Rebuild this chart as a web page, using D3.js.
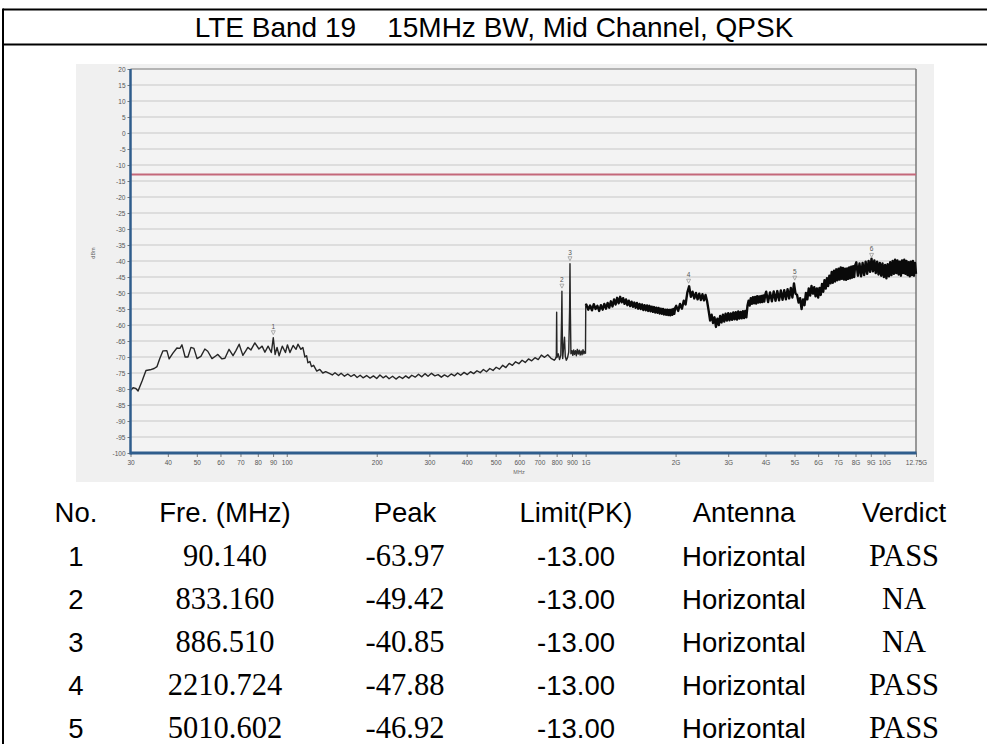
<!DOCTYPE html>
<html>
<head>
<meta charset="utf-8">
<script src="https://cdn.jsdelivr.net/npm/d3@7"></script>
<style>
  html, body { margin: 0; padding: 0; background: #fff; overflow: hidden; }
  svg { display: block; }
</style>
</head>
<body>
<svg id="chart" width="987" height="744"></svg>
<script>
// ---- Report header ----
const titleText = "LTE Band 19\u00a0\u00a0\u00a0\u00a015MHz BW, Mid Channel, QPSK";

// ---- Axis ticks ----
const xTickMHz = [30, 40, 50, 60, 70, 80, 90, 100, 200, 300, 400, 500, 600, 700, 800, 900,
                  1000, 2000, 3000, 4000, 5000, 6000, 7000, 8000, 9000, 10000, 12750];
const xTickLabels = ["30", "40", "50", "60", "70", "80", "90", "100", "200", "300", "400", "500",
                     "600", "700", "800", "900", "1G", "2G", "3G", "4G", "5G", "6G", "7G", "8G",
                     "9G", "10G", "12.75G"];
const yTickDbm = [20, 15, 10, 5, 0, -5, -10, -15, -20, -25, -30, -35, -40, -45, -50, -55, -60,
                  -65, -70, -75, -80, -85, -90, -95, -100];
const yTickLabels = ["20", "15", "10", "5", "0", "-5", "-10", "-15", "-20", "-25", "-30", "-35",
                     "-40", "-45", "-50", "-55", "-60", "-65", "-70", "-75", "-80", "-85", "-90",
                     "-95", "-100"];

// ---- Limit line ----
const limitDbm = -13;

// ---- Measured trace, 30 MHz – 1 GHz: [MHz, dBm] ----
const traceLow = [
  [30, -80.5], [30.6, -79.6], [31.2, -79.8], [31.8, -80.6], [32.8, -77.5], [33.8, -74.2],
  [34.9, -74.0], [36.0, -73.6], [36.8, -73.0], [37.6, -70.5], [38.5, -68.1], [39.7, -68.0],
  [40.4, -70.6], [41.6, -68.8], [42.9, -67.2], [43.9, -67.3], [44.6, -66.2], [45.7, -70.0],
  [46.7, -70.0], [47.8, -67.0], [48.9, -67.3], [50.1, -70.5], [51.6, -69.8], [53.2, -67.5],
  [54.4, -68.2], [56.2, -70.5], [58.0, -69.6], [58.8, -69.2], [60.7, -70.6], [62.1, -70.4],
  [64.1, -67.6], [66.1, -69.6], [67.6, -68.0], [69.3, -66.0], [71.3, -69.5], [73.0, -68.0],
  [74.1, -67.0], [75.9, -67.8], [78.2, -65.6], [80.7, -67.5], [82.7, -66.6], [84.5, -68.5],
  [86.6, -66.6], [88.8, -68.6], [90.14, -63.97], [91.4, -69.2], [92.8, -67.0], [94.3, -69.6],
  [96.6, -66.6], [99, -68.6], [100.5, -66.2], [102.5, -68.6], [105, -66.4], [107.4, -67.6],
  [109, -66.0], [111.5, -67.6], [113.2, -67.0], [115, -70.0], [116.5, -69.6], [117.7, -71.8],
  [119.5, -71.4], [121, -73.0], [123, -72.6], [126, -74.4], [129, -73.9], [132, -75.0],
  [135, -74.6], [139.4, -75.2],
  [142, -75.6], [145, -74.9], [149, -75.8], [152, -75.1], [156, -76.0], [160, -75.3],
  [164, -76.1], [168, -75.5], [172, -76.4], [176, -75.7], [180, -76.5], [185, -75.8],
  [190, -76.6], [195, -75.9], [200, -76.7], [205, -75.6], [210, -76.5], [215, -75.9],
  [220, -76.8], [226, -76.0], [232, -76.9], [238, -76.1], [244, -76.7], [250, -75.9],
  [256, -76.6], [262, -75.7], [269, -76.3], [276, -75.4], [283, -76.2], [290, -75.2],
  [297, -76.0], [305, -75.1], [313, -75.9], [321, -75.5], [329, -76.3], [337, -75.6],
  [346, -76.2], [355, -75.3], [364, -75.9], [373, -75.0], [382, -75.7], [392, -74.8],
  [402, -75.5], [412, -74.6], [422, -75.2], [433, -74.3], [444, -74.9], [455, -73.9],
  [466, -74.6], [478, -73.6], [490, -74.2], [502, -73.2], [515, -73.8], [528, -72.6],
  [541, -73.3], [555, -72.0], [569, -72.6], [583, -71.5], [598, -72.1], [613, -71.0],
  [628, -71.7], [644, -70.6], [660, -71.2], [677, -70.2], [694, -70.8], [711, -69.4],
  [729, -70.1], [747, -69.3], [766, -70.4], [785, -71.0],
  [792, -70.6], [798, -69.8], [800, -56.0], [802, -70.2], [810, -69.0], [818, -70.8],
  [826, -69.5], [831, -58.0], [833.16, -49.42], [835, -60.0], [838, -70.5], [845, -66.5],
  [850, -63.8], [855, -69.8], [862, -71.0], [870, -70.2], [878, -68.5], [884, -55.0],
  [886.51, -40.85], [889, -55.0], [893, -69.0], [900, -68.0], [906, -69.5], [912, -67.8],
  [918, -69.2], [925, -68.0], [931, -69.6], [938, -67.6], [945, -69.1], [952, -67.9],
  [959, -69.4], [966, -68.1], [973, -69.3], [980, -67.7], [987, -69.0], [994, -68.2],
  [999, -68.8], [1001, -54.0]
];

// ---- Measured trace above 1 GHz: sweep start/step (MHz) and levels (dBm) ----
const sweep1Start = 1005, sweep1Step = 15;
const sweep1Dbm = [
  -53.6, -55.2, -53.9, -55.4, -53.5, -55.0, -54.0, -55.6, -53.8, -55.2, -53.4, -54.9, -53.1,
  -54.6, -52.6, -54.2, -52.0, -53.6, -51.5, -53.2, -51.2, -52.9, -51.6, -53.4, -52.0, -53.8,
  -52.4, -54.1, -52.7, -54.3, -53.0, -54.6, -53.1, -54.9, -53.4, -55.0, -53.6, -55.3, -53.8,
  -55.4, -53.9, -55.6, -54.0, -55.7, -54.3, -55.9, -54.4, -56.1, -54.6, -56.2, -54.7, -56.4,
  -54.9, -56.5, -55.0, -56.7, -55.2, -56.8, -55.2, -56.9, -55.3, -57.0, -55.2, -56.8, -55.0,
  -56.5, -54.6
];
const sweep2Start = 2010, sweep2Step = 30;
const sweep2Dbm = [
  -54.0, -55.6, -53.4, -54.9, -52.4, -53.6, -49.8, -47.9, -51.2, -49.6, -51.7, -50.0, -52.0,
  -50.2, -52.2, -50.4, -52.3, -50.6, -52.6, -55.5, -58.6, -56.8, -59.4, -57.6, -60.6, -58.0,
  -60.0, -57.2, -59.2, -56.8, -58.9, -56.5, -58.6, -56.3, -58.5, -56.4, -58.4, -56.1, -58.2,
  -56.0, -58.3, -55.8, -58.0, -55.9, -57.9, -55.7, -57.8, -55.6, -57.6, -54.0, -52.4, -53.9,
  -51.6, -53.4, -51.3, -53.2, -51.2, -53.3, -51.0, -53.0, -51.1, -52.9, -50.9, -52.8, -50.8,
  -52.7, -50.6
];
const sweep3Start = 4020, sweep3Step = 60;
const sweep3Dbm = [
  -49.6, -52.8, -49.8, -52.6, -49.5, -52.4, -49.4, -52.3, -49.2, -52.1, -49.1, -52.0, -48.8,
  -51.7, -48.4, -51.4, -47.0, -50.2, -50.6, -53.0, -51.6, -55.0, -52.0, -53.8, -50.0, -52.0,
  -48.6, -50.8, -47.8, -50.2, -48.2, -51.0, -48.6, -51.4, -48.4, -50.6, -47.2, -49.6, -46.0,
  -48.6, -45.4, -47.8, -44.6, -47.0, -43.4, -46.8, -43.0, -46.4, -42.6, -46.0, -42.4, -45.8,
  -42.0, -45.6, -42.2, -45.8, -42.4, -45.9, -42.3, -45.6, -42.0, -45.4, -41.8, -45.2, -41.6,
  -45.0, -41.4
];
const sweep4Start = 8050, sweep4Step = 100;
const sweep4Dbm = [
  -40.4, -44.6, -40.8, -44.8, -40.6, -44.4, -40.2, -44.0, -40.0, -43.4, -39.3, -43.2, -39.8,
  -43.8, -40.2, -44.2, -40.6, -44.6, -40.8, -45.0, -41.2, -45.4, -41.0, -44.8, -40.4, -44.4,
  -40.0, -44.0, -39.6, -43.8, -39.8, -44.2, -40.2, -44.6, -39.8, -43.8, -39.6, -44.0, -40.0,
  -44.4, -40.4, -44.8, -40.2, -44.4, -40.0, -44.6, -40.6, -44.0
];

// ---- Peak markers ----
const markerNo = [1, 2, 3, 4, 5, 6];
const markerMHz = [90.140, 833.160, 886.510, 2210.724, 5010.602, 9056.000];
const markerDbm = [-63.97, -49.42, -40.85, -47.88, -46.92, -39.80];

// ---- Result table ----
const tableHeader = ["No.", "Fre. (MHz)", "Peak", "Limit(PK)", "Antenna", "Verdict"];
const rowFreq = ["90.140", "833.160", "886.510", "2210.724", "5010.602"];
const rowPeak = ["-63.97", "-49.42", "-40.85", "-47.88", "-46.92"];
const rowLimit = ["-13.00", "-13.00", "-13.00", "-13.00", "-13.00"];
const rowAntenna = ["Horizontal", "Horizontal", "Horizontal", "Horizontal", "Horizontal"];
const rowVerdict = ["PASS", "NA", "NA", "PASS", "PASS"];

// ================= drawing =================
const svg = d3.select("#chart");
const SANS = "'Liberation Sans', Arial, Helvetica, sans-serif";
const SERIF = "'Liberation Serif', 'Times New Roman', serif";

// report frame
svg.append("rect").attr("width", 987).attr("height", 744).attr("fill", "#fff");
svg.append("line").attr("x1", 3).attr("x2", 987).attr("y1", 9.5).attr("y2", 9.5)
  .attr("stroke", "#000").attr("stroke-width", 2);
svg.append("line").attr("x1", 3).attr("x2", 987).attr("y1", 44.5).attr("y2", 44.5)
  .attr("stroke", "#000").attr("stroke-width", 2);
svg.append("line").attr("x1", 3).attr("x2", 3).attr("y1", 8.5).attr("y2", 744)
  .attr("stroke", "#000").attr("stroke-width", 2);
svg.append("text").attr("x", 494).attr("y", 37).attr("text-anchor", "middle")
  .attr("font-family", SANS).attr("font-size", 28).attr("fill", "#000").text(titleText);

// chart panel
const plot = { left: 130.5, right: 916, top: 69, bottom: 453 };
svg.append("rect").attr("x", 76).attr("y", 64).attr("width", 858).attr("height", 418)
  .attr("fill", "#f0f0f0");
svg.append("rect").attr("x", plot.left).attr("y", plot.top)
  .attr("width", plot.right - plot.left).attr("height", plot.bottom - plot.top)
  .attr("fill", "#f3f3f3");

const x = d3.scaleLog().domain([30, 12750]).range([plot.left, plot.right]);
const y = d3.scaleLinear().domain([-100, 20]).range([plot.bottom, plot.top]);

// horizontal grid
svg.append("g").selectAll("line").data(yTickDbm).join("line")
  .attr("x1", plot.left).attr("x2", plot.right)
  .attr("y1", d => y(d)).attr("y2", d => y(d))
  .attr("stroke", "#d6d6d6").attr("stroke-width", 1.3);

// y axis
const yAxis = d3.axisLeft(y).tickValues(yTickDbm)
  .tickFormat((d, i) => yTickLabels[i]).tickSize(3).tickPadding(2);
const gy = svg.append("g").attr("transform", `translate(${plot.left},0)`).call(yAxis);
gy.select(".domain").remove();
gy.selectAll("line").attr("stroke", "#777");
gy.selectAll("text").attr("font-family", SANS).attr("font-size", 6.5).attr("fill", "#555");

// x axis
const xAxis = d3.axisBottom(x).tickValues(xTickMHz)
  .tickFormat((d, i) => xTickLabels[i]).tickSize(4).tickPadding(3);
const gx = svg.append("g").attr("transform", `translate(0,${plot.bottom})`).call(xAxis);
gx.select(".domain").remove();
gx.selectAll("line").attr("stroke", "#777");
gx.selectAll("text").attr("font-family", SANS).attr("font-size", 6.5).attr("fill", "#555");

svg.append("text").attr("x", 519).attr("y", 474).attr("text-anchor", "middle")
  .attr("font-family", SANS).attr("font-size", 5.5).attr("fill", "#666").text("MHz");
svg.append("text").attr("transform", "translate(95,253) rotate(-90)").attr("text-anchor", "middle")
  .attr("font-family", SANS).attr("font-size", 5.5).attr("fill", "#666").text("dBm");

// plot frame
svg.append("line").attr("x1", plot.left).attr("x2", plot.right)
  .attr("y1", plot.top).attr("y2", plot.top).attr("stroke", "#8c8c8c").attr("stroke-width", 1);
svg.append("line").attr("x1", plot.right).attr("x2", plot.right)
  .attr("y1", plot.top).attr("y2", plot.bottom).attr("stroke", "#7a7a7a").attr("stroke-width", 1.5);

// limit line
svg.append("line").attr("x1", plot.left).attr("x2", plot.right)
  .attr("y1", y(limitDbm)).attr("y2", y(limitDbm))
  .attr("stroke", "#c4687a").attr("stroke-width", 2);

// trace: below 1 GHz, then the swept segments above 1 GHz
const sweeps = [
  [sweep1Start, sweep1Step, sweep1Dbm],
  [sweep2Start, sweep2Step, sweep2Dbm],
  [sweep3Start, sweep3Step, sweep3Dbm],
  [sweep4Start, sweep4Step, sweep4Dbm]
];
const traceHigh = [traceLow[traceLow.length - 1]];
sweeps.forEach(([start, step, levels]) => {
  levels.forEach((v, i) => traceHigh.push([start + i * step, v]));
});
const line = d3.line().x(d => x(d[0])).y(d => y(d[1]));
svg.append("path").datum(traceLow).attr("d", line)
  .attr("fill", "none").attr("stroke", "#262626").attr("stroke-width", 1.4)
  .attr("stroke-linejoin", "round");
svg.append("path").datum(traceHigh).attr("d", line)
  .attr("fill", "none").attr("stroke", "#0a0a0a").attr("stroke-width", 2.4)
  .attr("stroke-linejoin", "round");

// axes lines (blue)
svg.append("line").attr("x1", plot.left).attr("x2", plot.left)
  .attr("y1", plot.top).attr("y2", plot.bottom + 1.5).attr("stroke", "#2f5d8c").attr("stroke-width", 2.5);
svg.append("line").attr("x1", plot.left).attr("x2", plot.right + 0.5)
  .attr("y1", plot.bottom).attr("y2", plot.bottom).attr("stroke", "#2f5d8c").attr("stroke-width", 3);

// markers
const mk = svg.append("g");
markerNo.forEach((n, i) => {
  const mx = x(markerMHz[i]), my = y(markerDbm[i]);
  mk.append("path")
    .attr("d", `M${mx - 2},${my - 7}L${mx + 2},${my - 7}L${mx},${my - 3}Z`)
    .attr("fill", "none").attr("stroke", "#9a9a9a").attr("stroke-width", 0.8);
  mk.append("text").attr("x", mx).attr("y", my - 9).attr("text-anchor", "middle")
    .attr("font-family", SANS).attr("font-size", 6.5).attr("fill", "#555").text(n);
});

// result table
const colX = [76, 225, 405, 576, 744, 904];
const headY = 522, rowY0 = 565.5, rowStep = 43;
svg.append("g").selectAll("text").data(tableHeader).join("text")
  .attr("x", (d, i) => colX[i]).attr("y", headY).attr("text-anchor", "middle")
  .attr("font-family", SANS).attr("font-size", 27.5).attr("fill", "#000").text(d => d);

const cols = [
  { vals: rowFreq.map((_, i) => String(i + 1)), font: SANS, size: 27.5 },
  { vals: rowFreq, font: SERIF, size: 30.5 },
  { vals: rowPeak, font: SERIF, size: 30.5 },
  { vals: rowLimit, font: SANS, size: 27.5 },
  { vals: rowAntenna, font: SANS, size: 27.5 },
  { vals: rowVerdict, font: SERIF, size: 30.5 }
];
cols.forEach((c, ci) => {
  svg.append("g").selectAll("text").data(c.vals).join("text")
    .attr("x", colX[ci]).attr("y", (d, ri) => rowY0 + ri * rowStep)
    .attr("text-anchor", "middle").attr("font-family", c.font)
    .attr("font-size", c.size).attr("fill", "#000").text(d => d);
});
</script>
</body>
</html>
